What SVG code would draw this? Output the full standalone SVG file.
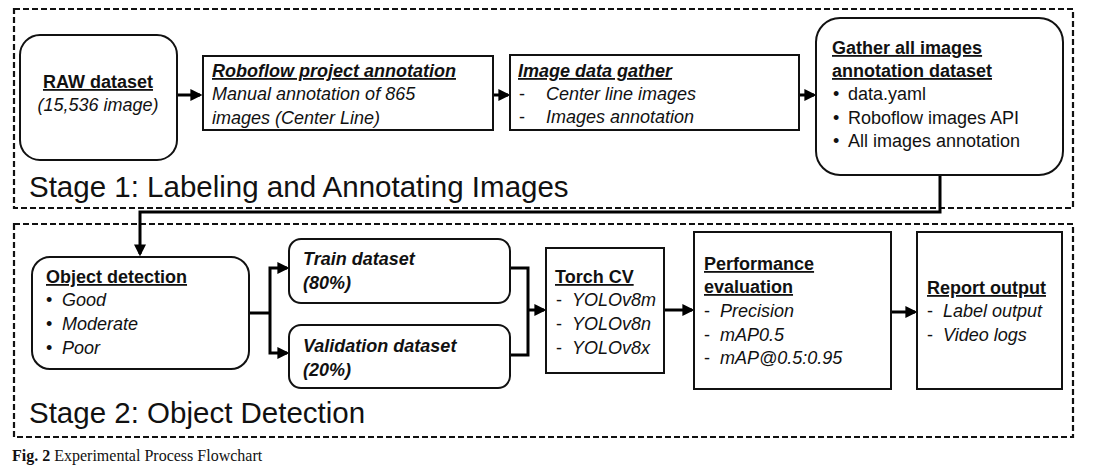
<svg xmlns="http://www.w3.org/2000/svg" width="1095" height="475" viewBox="0 0 1095 475">
<defs>
<marker id="ah" markerWidth="4" markerHeight="4" refX="3.2" refY="2" orient="auto" markerUnits="strokeWidth"><path d="M0,0 L4,2 L0,4 Z" fill="#000"/></marker>
</defs>
<style>
text{font-family:"Liberation Sans",Arial,sans-serif;font-size:18px;fill:#111}
.h{font-weight:bold;text-decoration:underline}
.hi{font-weight:bold;font-style:italic;text-decoration:underline}
.bi{font-weight:bold;font-style:italic}
.i{font-style:italic}
.stage{font-size:29.5px}
.box{fill:#fff;stroke:#111;stroke-width:2}
.dash{fill:none;stroke:#111;stroke-width:2.2;stroke-dasharray:6,3}
.c{fill:none;stroke:#000;stroke-width:3;marker-end:url(#ah)}
.cl{fill:none;stroke:#000;stroke-width:3}
.cap{font-family:"Liberation Serif","Times New Roman",serif;font-size:16px}
</style>
<rect width="1095" height="475" fill="#fff"/>
<g id="stage1">
<rect class="dash" x="14" y="9" width="1059" height="199"/>
<text class="stage" x="29" y="197">Stage 1: Labeling and Annotating Images</text>
</g>
<g id="stage2">
<rect class="dash" x="14" y="224" width="1059" height="213"/>
<text class="stage" x="29" y="423">Stage 2: Object Detection</text>
</g>
<g id="connectors">
<path class="c" d="M178,95 H200"/>
<path class="c" d="M494,95 H508"/>
<path class="c" d="M800,95 H814"/>
<path class="c" d="M940,175 V212 H140 V254"/>
<path class="cl" d="M249,313 H270"/>
<path class="c" d="M270,313 V268 H287"/>
<path class="c" d="M270,313 V353 H287"/>
<path class="cl" d="M510,268 H528 V355 H510"/>
<path class="c" d="M528,310 H544"/>
<path class="c" d="M664,310 H692"/>
<path class="c" d="M891,312 H915"/>
</g>
<g id="raw">
<rect class="box" x="20" y="35" width="157" height="125" rx="20"/>
<text class="h" x="98" y="88" text-anchor="middle">RAW dataset</text>
<text class="i" x="98" y="111" text-anchor="middle">(15,536 image)</text>
</g>
<g id="roboflow">
<rect class="box" x="203" y="56" width="290" height="74"/>
<text class="hi" x="212" y="77">Roboflow project annotation</text>
<text class="i" x="212" y="100">Manual annotation of 865</text>
<text class="i" x="212" y="124">images (Center Line)</text>
</g>
<g id="gather">
<rect class="box" x="510" y="55" width="289" height="75"/>
<text class="hi" x="518" y="77">Image data gather</text>
<text x="519" y="100">-</text><text class="i" x="546" y="100">Center line images</text>
<text x="519" y="123">-</text><text class="i" x="546" y="123">Images annotation</text>
</g>
<g id="gatherall">
<rect class="box" x="816" y="18" width="247" height="157" rx="24"/>
<text class="h" x="832" y="54">Gather all images</text>
<text class="h" x="832" y="77">annotation dataset</text>
<text x="833" y="100">•</text><text x="848" y="100">data.yaml</text>
<text x="833" y="124">•</text><text x="848" y="124">Roboflow images API</text>
<text x="833" y="147">•</text><text x="848" y="147">All images annotation</text>
</g>
<g id="objdet">
<rect class="box" x="32" y="257" width="217" height="112" rx="18"/>
<text class="h" x="46" y="283">Object detection</text>
<text x="46" y="306">•</text><text class="i" x="62" y="306">Good</text>
<text x="46" y="330">•</text><text class="i" x="62" y="330">Moderate</text>
<text x="46" y="354">•</text><text class="i" x="62" y="354">Poor</text>
</g>
<g id="train">
<rect class="box" x="289" y="239" width="221" height="64" rx="12"/>
<text class="bi" x="303" y="265">Train dataset</text>
<text class="bi" x="303" y="289">(80%)</text>
</g>
<g id="valid">
<rect class="box" x="289" y="325" width="221" height="63" rx="12"/>
<text class="bi" x="303" y="352">Validation dataset</text>
<text class="bi" x="303" y="376">(20%)</text>
</g>
<g id="torch">
<rect class="box" x="546" y="248" width="118" height="125"/>
<text class="h" x="555" y="283">Torch CV</text>
<text x="556" y="306">-</text><text class="i" x="572" y="306">YOLOv8m</text>
<text x="556" y="330">-</text><text class="i" x="572" y="330">YOLOv8n</text>
<text x="556" y="354">-</text><text class="i" x="572" y="354">YOLOv8x</text>
</g>
<g id="perf">
<rect class="box" x="694" y="232" width="197" height="157"/>
<text class="h" x="704" y="270">Performance</text>
<text class="h" x="704" y="293">evaluation</text>
<text x="704" y="317">-</text><text class="i" x="720" y="317">Precision</text>
<text x="704" y="341">-</text><text class="i" x="720" y="341">mAP0.5</text>
<text x="704" y="364">-</text><text class="i" x="720" y="364">mAP@0.5:0.95</text>
</g>
<g id="report">
<rect class="box" x="917" y="232" width="145" height="157"/>
<text class="h" x="927" y="294">Report output</text>
<text x="927" y="317">-</text><text class="i" x="943" y="317">Label output</text>
<text x="927" y="341">-</text><text class="i" x="943" y="341">Video logs</text>
</g>
<text class="cap" x="12" y="461"><tspan font-weight="bold">Fig. 2</tspan> Experimental Process Flowchart</text>
</svg>
